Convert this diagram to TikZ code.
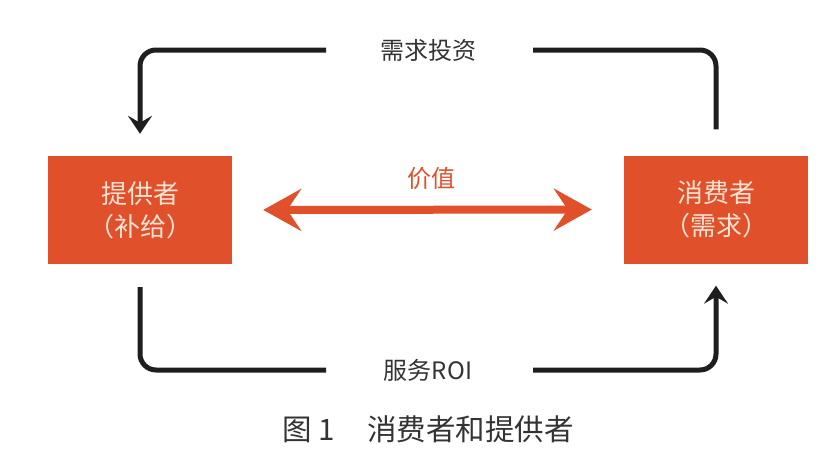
\documentclass[tikz,border=0pt]{standalone}
\usepackage{fontspec}
\setmainfont{Noto Sans CJK SC}
\usetikzlibrary{arrows.meta}
\definecolor{boxorange}{HTML}{E0502A}
\definecolor{boxtext}{HTML}{FBE3D3}
\definecolor{linedark}{HTML}{1E1E1E}
\definecolor{labeldark}{HTML}{333333}
\tikzset{
  agent/.style={fill=boxorange, minimum width=184pt, minimum height=108pt,
    align=center, text=boxtext, font=\fontsize{26}{33}\selectfont, inner sep=0pt},
  flowlabel/.style={text=labeldark, font=\fontsize{24}{26}\selectfont, inner sep=0pt},
  flow/.style={draw=linedark, line width=5pt, rounded corners=16pt},
  flowtip/.style={-{Stealth[length=18pt,width=24pt,inset=7pt]}},
  valarrow/.style={draw=boxorange, line width=8pt,
    {Stealth[length=38pt,width=42pt,inset=14pt]}-{Stealth[length=38pt,width=42pt,inset=14pt]}},
}
\begin{document}
\begin{tikzpicture}[x=1pt,y=-1pt]
\useasboundingbox (0,0) rectangle (838,456);
\node[agent] (prov) at (140,210) {提供者\\（补给）};
\node[agent] (cons) at (716,209.5) {消费者\\（需求）};
\node[flowlabel] (need) at (428,50) {需求投资};
\node[flowlabel] (roi) at (428,370) {服务ROI};
\node[text=boxorange, font=\fontsize{24}{26}\selectfont, inner sep=0pt] (val) at (431,178) {价值};
\node[text=labeldark, font=\fontsize{29.5}{32}\selectfont, inner sep=0pt] (cap) at (428,429) {图 1\hspace{1.1em}消费者和提供者};
\coordinate (nl) at (326,50);
\coordinate (nr) at (533,50);
\coordinate (rl) at (326,370);
\coordinate (rr) at (533,370);
\draw[flow, flowtip, shorten >=22pt] (nl) -| (prov.north);
\draw[flow, shorten >=26pt] (nr) -| (cons.north);
\draw[flow, shorten <=23pt] (prov.south) |- (rl);
\draw[flow, flowtip, shorten >=22pt] (rr) -| (cons.south);
\draw[valarrow, shorten <=31pt, shorten >=32pt] (prov.east) -- (cons.west);
\end{tikzpicture}
\end{document}
